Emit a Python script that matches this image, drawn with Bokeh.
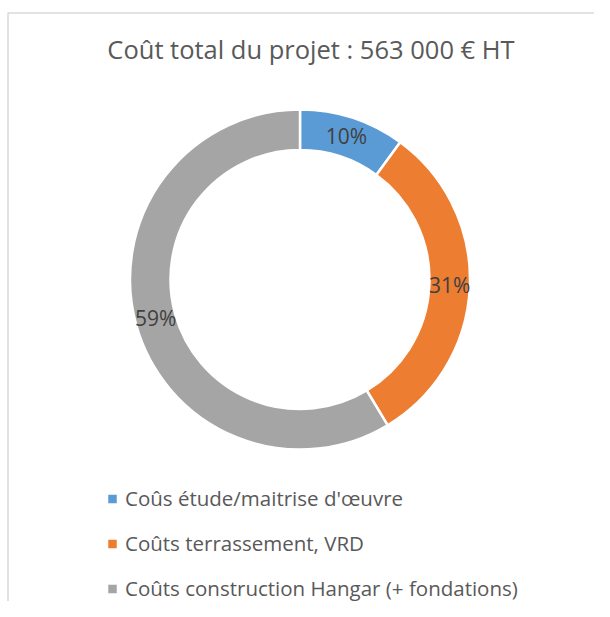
import math
from bokeh.plotting import figure
from bokeh.models import Range1d, ColumnDataSource
from bokeh.core.properties import value
from bokeh.embed import file_html
from bokeh.resources import INLINE

# ---- data ----
title_text = "Coût total du projet : 563 000 € HT"
categories = ["Coûs étude/maitrise d'œuvre",
              "Coûts terrassement, VRD",
              "Coûts construction Hangar (+ fondations)"]
costs = [56500, 176500, 330000]          # € HT, total 563 000
colors = ["#5B9BD5", "#ED7D31", "#A5A5A5"]

FONT = "Open Sans"
W, H = 594, 601
p = figure(width=W, height=H, output_backend="svg", toolbar_location=None,
           x_range=Range1d(0, W), y_range=Range1d(-H, 0),
           min_border=0, outline_line_color=None)
p.axis.visible = False
p.grid.visible = False
p.background_fill_color = "white"

# chart-area border (top and left visible)
p.line(x=[7.5, 7.5, W + 10], y=[-H - 10, -12.5, -12.5], line_color="#D9D9D9", line_width=1.5)

# title
p.text(x=[310.5], y=[-48.5], text=[title_text], text_font=value(FONT),
       text_font_size="25.5px", text_color="#595959",
       text_align="center", text_baseline="middle")

# donut
cx, cy = 299.5, -279.0
r_out, r_in = 170.0, 129.5
total = sum(costs)
fracs = [c / total for c in costs]
starts, ends, lx, ly, labels = [], [], [], [], []
cum = 0.0
rmid = (r_out + r_in) / 2
for f in fracs:
    a0 = math.pi / 2 - cum * 2 * math.pi
    a1 = math.pi / 2 - (cum + f) * 2 * math.pi
    starts.append(a0)
    ends.append(a1)
    am = (a0 + a1) / 2
    lx.append(cx + rmid * math.cos(am))
    ly.append(cy + rmid * math.sin(am))
    labels.append(f"{round(f * 100)}%")
    cum += f

src = ColumnDataSource(dict(start=starts, end=ends, color=colors))
p.annular_wedge(x=cx, y=cy, inner_radius=r_in, outer_radius=r_out,
                start_angle="start", end_angle="end", direction="clock",
                fill_color="color", line_color="white", line_width=2.5,
                source=src, inner_radius_units="screen", outer_radius_units="screen")

p.text(x=lx, y=[y + 1.5 for y in ly], text=labels, text_font=value(FONT), text_font_size="21px",
       text_color="#404040", text_align="center", text_baseline="middle")

# legend
leg_y0, leg_dy = -498.5, -45.0
leg_y = [leg_y0 + i * leg_dy for i in range(len(categories))]
p.scatter(x=[112] * len(categories), y=leg_y, marker="square", size=8.5,
          fill_color=colors, line_color=None)
p.text(x=[124.5] * len(categories), y=[y + 1.5 for y in leg_y], text=categories,
       text_font=value(FONT), text_font_size="20.5px", text_color="#595959",
       text_align="left", text_baseline="middle")

open("out.html", "w").write(file_html(p, INLINE))
